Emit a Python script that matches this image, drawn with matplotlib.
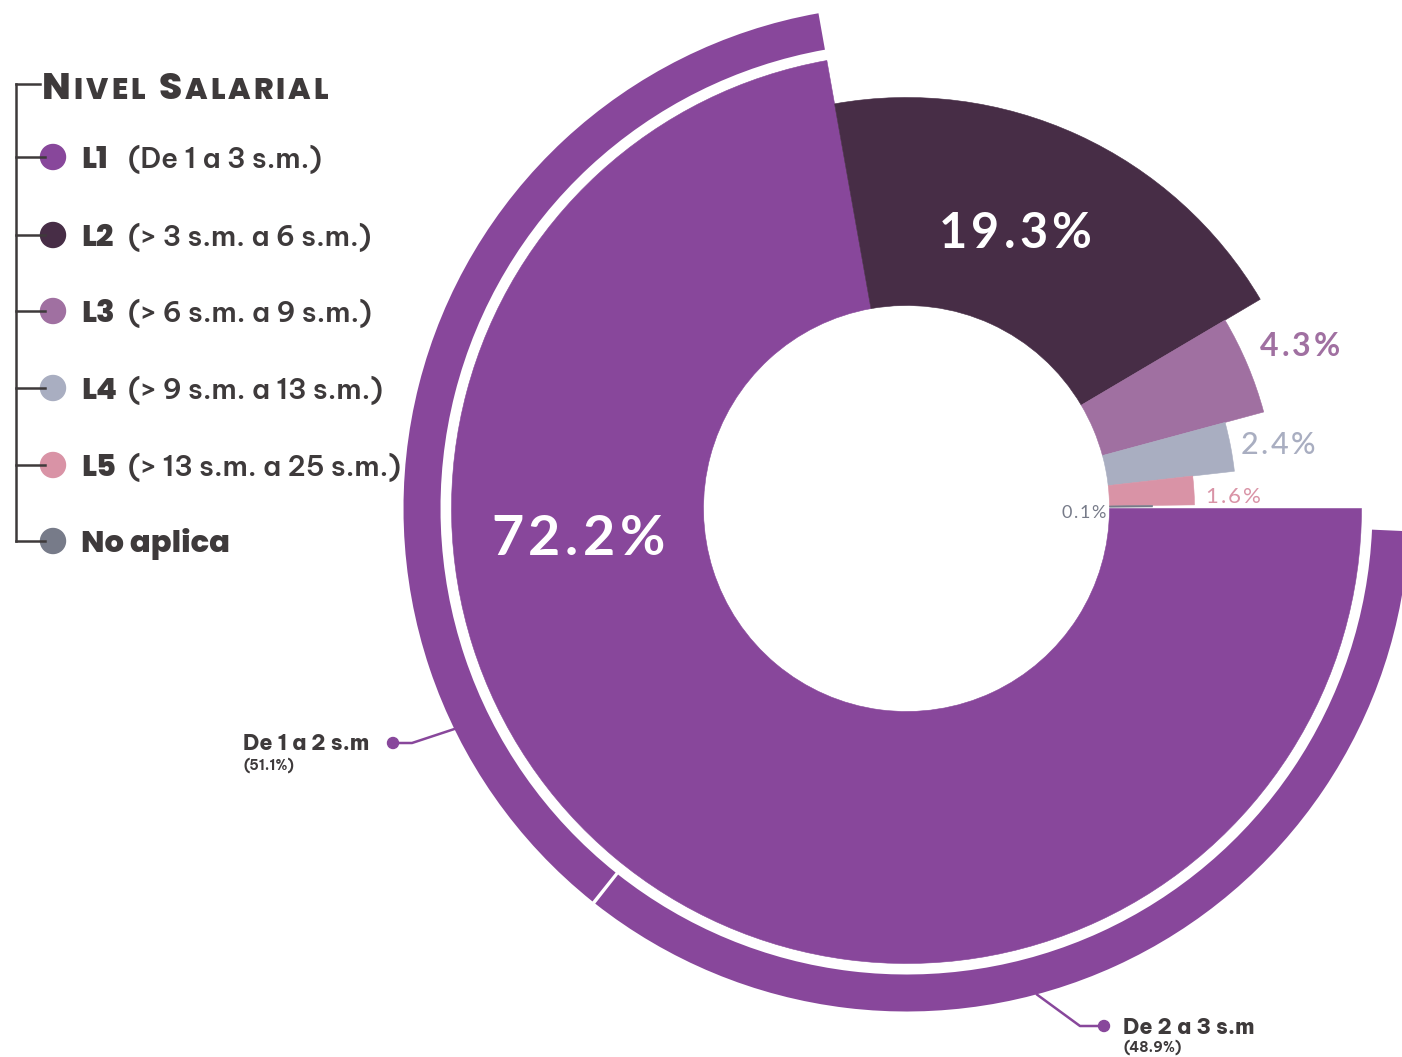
import numpy as np
import matplotlib
matplotlib.use("Agg")
import matplotlib.pyplot as plt
from matplotlib.patches import Wedge, Circle

# data
levels = ["L1", "L2", "L3", "L4", "L5", "No aplica"]
level_ranges = ["(De 1 a 3 s.m.)", "(> 3 s.m. a 6 s.m.)", "(> 6 s.m. a 9 s.m.)",
                "(> 9 s.m. a 13 s.m.)", "(> 13 s.m. a 25 s.m.)", ""]
shares = [72.2, 19.3, 4.3, 2.4, 1.6, 0.1]
sub_labels = ["De 1 a 2 s.m", "De 2 a 3 s.m"]
sub_shares = [51.1, 48.9]

# style
W, H = 1402, 1057
FONT = ["Lato", "DejaVu Sans"]
HEAVY = ["Poppins", "DejaVu Sans"]
SEMI = ["Be Vietnam Pro", "Lato", "DejaVu Sans"]
TEXT = "#3e3a3b"
colors = ["#88479b", "#472d46", "#a070a1", "#a9aec1", "#d993a6", "#777b89"]
radii = [455, 411, 370, 330, 288, 246]
cx, cy, r_in = 906.5, 508.5, 203
ring_in, ring_out = 466, 503

fig = plt.figure(figsize=(W / 100, H / 100), dpi=100)
ax = fig.add_axes([0, 0, 1, 1])
ax.set_xlim(0, W)
ax.set_ylim(H, 0)
ax.axis("off")
renderer = fig.canvas.get_renderer()


def polar(r, ang):
    return cx + r * np.cos(np.radians(ang)), cy - r * np.sin(np.radians(ang))


def tracked(x, yc, s, size, weight, color, track, ha="left"):
    # draws text letter by letter so it can be spaced out like the original
    base = yc + 0.36 * size * 100 / 72
    ts = [ax.text(0, base, ch, fontsize=size, fontweight=weight, color=color,
                  family=FONT, ha="left", va="baseline") for ch in s]
    ws = [t.get_window_extent(renderer).width for t in ts]
    total = sum(ws) + track * (len(s) - 1)
    x0 = {"left": x, "center": x - total / 2, "right": x - total}[ha]
    for t, w in zip(ts, ws):
        t.set_x(x0)
        x0 += w + track


# slices, clockwise from 3 o'clock (y axis is flipped, so angles get negated)
spans = np.array(shares) * 3.6
hi = 360 - np.concatenate([[0], np.cumsum(spans)[:-1]])
lo = hi - spans
for i in range(len(shares)):
    ax.add_patch(Wedge((cx, cy), radii[i], -hi[i], -lo[i], width=radii[i] - r_in,
                       facecolor=colors[i], edgecolor=colors[i], lw=0.4))

# outer ring that splits L1
ring_pad = 2.6
ring_span = spans[0] - ring_pad
cut = lo[0] + ring_span * sub_shares[0] / sum(sub_shares)
seg = [(lo[0], cut - 0.2), (cut + 0.2, hi[0] - ring_pad)]
for a, b in seg:
    ax.add_patch(Wedge((cx, cy), ring_out, -b, -a, width=ring_out - ring_in,
                       facecolor=colors[0], lw=0))

# leader lines for the ring
attach = [206, 285]
dots = [(393, 743), (1104, 1026)]
elbow_dx = [19, -24]
for k in range(2):
    ax_, ay_ = polar(ring_out, attach[k])
    dx, dy = dots[k]
    ax.plot([ax_, dx + elbow_dx[k], dx], [ay_, dy, dy], color=colors[0], lw=1.8,
            solid_capstyle="round")
    ax.add_patch(Circle((dx, dy), 5.5, color=colors[0]))

ax.text(243, 750, sub_labels[0], fontsize=15.5, fontweight=800, color=TEXT,
        family=SEMI, ha="left", va="baseline")
ax.text(243, 770, f"({sub_shares[0]}%)", fontsize=10, fontweight=700, color=TEXT,
        family=SEMI, ha="left", va="baseline")
ax.text(1123, 1034, sub_labels[1], fontsize=15.5, fontweight=800, color=TEXT,
        family=SEMI, ha="left", va="baseline")
ax.text(1123, 1052, f"({sub_shares[1]}%)", fontsize=10, fontweight=700, color=TEXT,
        family=SEMI, ha="left", va="baseline")

# percentage labels
label_xy = [(578, 535), (1015, 230), (1300, 345), (1278, 443), (1233, 495), (1106, 511)]
label_ha = ["center", "center", "center", "center", "center", "right"]
label_size = [40, 35, 23, 22, 16, 13]
label_weight = ["bold", "bold", "bold", "medium", "normal", "normal"]
label_color = ["white", "white"] + colors[2:]
for i in range(len(shares)):
    x, y = label_xy[i]
    tracked(x, y, f"{shares[i]}%", label_size[i], label_weight[i], label_color[i],
            label_size[i] * 0.12, label_ha[i])

# legend with bracket
rows_y = [157, 235, 311, 388, 465, 541]
ax.plot([16, 16], [84, rows_y[-1]], color=TEXT, lw=1.8)
ax.plot([16, 40], [84, 84], color=TEXT, lw=1.8)
for i, y in enumerate(rows_y):
    ax.plot([16, 45], [y, y], color=TEXT, lw=1.8)
    ax.add_patch(Circle((53, y), 12.5, color=colors[i]))
    ax.text(81, y + 11, levels[i], fontsize=22, fontweight=800, color=TEXT,
            family=HEAVY, ha="left", va="baseline")
    if level_ranges[i]:
        ax.text(128, y + 11, level_ranges[i], fontsize=20, fontweight=600,
                color=TEXT, family=SEMI, ha="left", va="baseline")

# small caps title
x = 42
for word in ["Nivel", "Salarial"]:
    for j, ch in enumerate(word.upper()):
        t = ax.text(x, 99, ch, fontsize=27 if j == 0 else 21.5, fontweight=800,
                    color=TEXT, family=HEAVY, ha="left", va="baseline")
        x += t.get_window_extent(renderer).width + 3
    x += 10

fig.savefig("out.png", dpi=100, facecolor="white")
